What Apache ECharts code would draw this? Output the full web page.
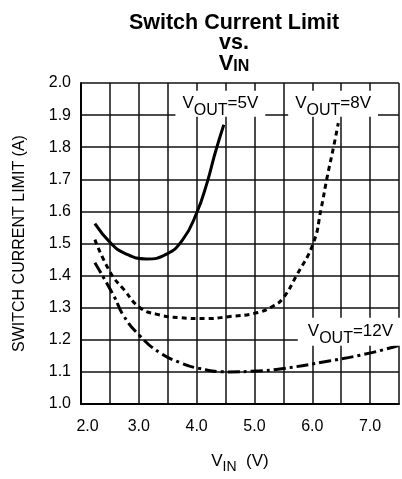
<!DOCTYPE html>
<html lang="en">

<head>
    <meta charset="UTF-8">
    <style>
    html,
    body {
        height: 100%;
        margin: 0;
        background: #fff;
    }
  </style>
</head>

<body>
<div id="chart" style="width:402px;height:479px;"></div>
<script src="https://cdn.jsdelivr.net/npm/echarts@6/dist/echarts.min.js"></script>
<script>
    // V_OUT = 5V
    var vin5 = [2.24, 2.51, 2.74, 3.13, 3.47, 3.76, 4.0, 4.18, 4.32, 4.47];
    var cur5 = [1.562, 1.502, 1.471, 1.452, 1.466, 1.512, 1.595, 1.689, 1.782, 1.870];
    // V_OUT = 8V
    var vin8 = [2.24, 2.51, 2.74, 3.02, 3.30, 3.70, 4.15, 4.55, 5.06, 5.34, 5.50, 5.72, 6.02, 6.15, 6.26, 6.37, 6.45];
    var cur8 = [1.512, 1.409, 1.357, 1.300, 1.280, 1.269, 1.266, 1.272, 1.285, 1.307, 1.331, 1.398, 1.502, 1.606, 1.709, 1.802, 1.875];
    // V_OUT = 12V
    var vin12 = [2.24, 2.57, 2.74, 3.02, 3.36, 3.70, 4.04, 4.55, 5.06, 5.44, 6.29, 7.03, 7.5];
    var cur12 = [1.44, 1.336, 1.274, 1.212, 1.160, 1.130, 1.111, 1.100, 1.103, 1.109, 1.134, 1.160, 1.183];

    var xTicks = ['2.0', '3.0', '4.0', '5.0', '6.0', '7.0'];
    var seriesNames = ['5V', '8V', '12V'];

    var font = 'Liberation Sans';

    function pairs(xs, ys) {
        var out = [];
        for (var i = 0; i < xs.length; i++) {
            out.push([xs[i], ys[i]]);
        }
        return out;
    }

    var labelRich = {
        v: { fontSize: 17, fontFamily: font, color: '#000', lineHeight: 17, verticalAlign: 'top' },
        s: { fontSize: 16, fontFamily: font, color: '#000', lineHeight: 16, verticalAlign: 'top', padding: [8, 0, 0, 0] }
    };

    function vout(name, coord, pad) {
        return {
            symbol: 'circle',
            symbolSize: 1,
            itemStyle: { color: 'rgba(0,0,0,0)' },
            silent: true,
            data: [{ coord: coord }],
            label: {
                show: true,
                position: 'inside',
                formatter: '{v|V}{s|OUT}{v|=' + name + '}',
                rich: labelRich,
                backgroundColor: '#fff',
                padding: pad
            }
        };
    }

    var myChart = echarts.init(document.getElementById('chart'));
    myChart.setOption({
        animation: false,
        backgroundColor: '#fff',
        title: {
            text: 'Switch Current Limit\nvs.\n{v|V}{s|IN}',
            left: 234,
            top: 13,
            padding: 0,
            textAlign: 'center',
            textStyle: {
                fontFamily: font,
                fontWeight: 'bold',
                fontSize: 21.5,
                lineHeight: 20,
                color: '#000',
                rich: {
                    v: { fontFamily: font, fontWeight: 'bold', fontSize: 22, lineHeight: 20, color: '#000', verticalAlign: 'top' },
                    s: { fontFamily: font, fontWeight: 'bold', fontSize: 16, lineHeight: 15, color: '#000', verticalAlign: 'top', padding: [6, 0, 0, 0] }
                }
            }
        },
        grid: {
            left: 81,
            right: -3,
            top: 83,
            bottom: 74
        },
        xAxis: {
            type: 'value',
            min: 2,
            max: 7.5,
            interval: 0.5,
            name: '{v|V}{s|IN}{v|  (V)}',
            nameLocation: 'middle',
            nameGap: 49,
            nameTextStyle: {
                rich: {
                    v: { fontSize: 17, fontFamily: font, color: '#000', lineHeight: 17, verticalAlign: 'top' },
                    s: { fontSize: 14, fontFamily: font, color: '#000', lineHeight: 14, verticalAlign: 'top', padding: [7, 0, 0, 0] }
                }
            },
            axisLine: { lineStyle: { color: '#000', width: 2 } },
            axisTick: { show: false },
            splitLine: { lineStyle: { color: '#111', width: 1.5 } },
            axisLabel: {
                margin: 15,
                color: '#000',
                fontFamily: font,
                fontSize: 16,
                formatter: function (v) {
                    var s = v.toFixed(1);
                    if (xTicks.indexOf(s) < 0) return '';
                    return s === '2.0' ? '{f|' + s + '}' : s;
                },
                rich: {
                    f: { fontSize: 16, fontFamily: font, color: '#000', padding: [0, 0, 0, 13] }
                }
            }
        },
        yAxis: {
            type: 'value',
            min: 1,
            max: 2,
            interval: 0.1,
            name: 'SWITCH CURRENT LIMIT (A)',
            nameLocation: 'middle',
            nameGap: 53,
            nameTextStyle: { fontFamily: font, fontSize: 16, color: '#000' },
            axisLine: { show: true, lineStyle: { color: '#000', width: 2 } },
            axisTick: { show: false },
            splitLine: { lineStyle: { color: '#111', width: 1.5 } },
            axisLabel: {
                margin: 10,
                color: '#000',
                fontFamily: font,
                fontSize: 16,
                formatter: function (v) { return v.toFixed(1); }
            }
        },
        series: [
            {
                name: seriesNames[0],
                type: 'line',
                data: pairs(vin5, cur5),
                smooth: 0.5,
                showSymbol: false,
                lineStyle: { color: '#000', width: 3 },
                markPoint: vout('5V', [4.41, 1.935], [4, 7, 5, 7])
            },
            {
                name: seriesNames[1],
                type: 'line',
                data: pairs(vin8, cur8),
                smooth: 0.5,
                showSymbol: false,
                lineStyle: { color: '#000', width: 3, type: [5, 4] },
                markPoint: vout('8V', [6.36, 1.935], [4, 7, 5, 7])
            },
            {
                name: seriesNames[2],
                type: 'line',
                data: pairs(vin12, cur12),
                smooth: 0.5,
                showSymbol: false,
                lineStyle: { color: '#000', width: 3, type: [12, 4, 3, 4] },
                markPoint: vout('12V', [6.66, 1.225], [5, 10, 6, 10])
            }
        ]
    });
</script>
</body>
</html>
